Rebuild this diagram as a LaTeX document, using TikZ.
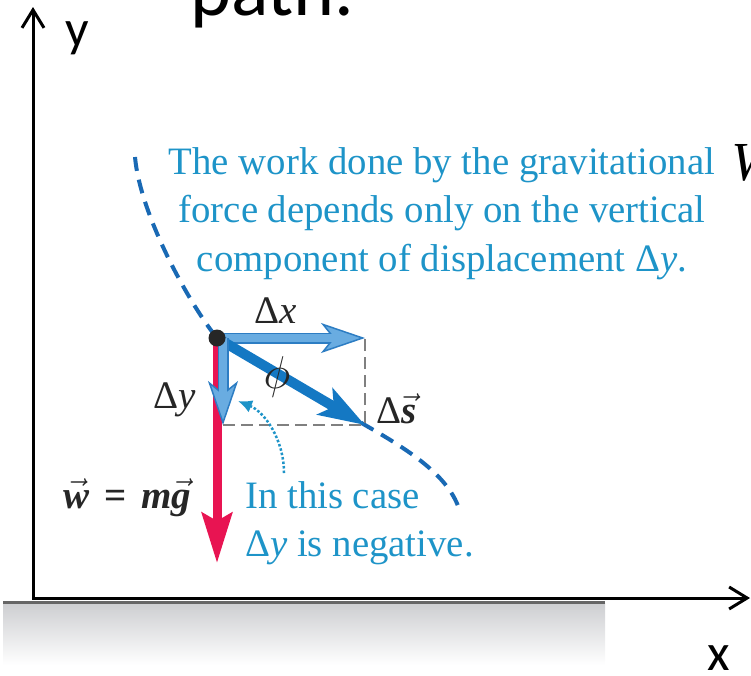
\documentclass[tikz,border=0pt]{standalone}
\usepackage{fix-cm}
\usepackage{fontspec}
\setmainfont{Liberation Serif}
\newfontfamily\slidefont{Carlito}
\usetikzlibrary{arrows.meta}
\definecolor{noteBlue}{RGB}{30,148,200}
\definecolor{pathBlue}{RGB}{25,105,180}
\definecolor{dispBlue}{RGB}{20,120,195}
\definecolor{compBlue}{RGB}{105,172,225}
\definecolor{compEdge}{RGB}{45,125,195}
\definecolor{weightRed}{RGB}{232,20,82}
\definecolor{groundGray}{RGB}{205,206,209}

\begin{document}
\begin{tikzpicture}[
  x=1pt, y=-1pt,
  axis/.style={
    line width=3pt,
    line join=miter,
    {Straight Barb[length=18pt,width=22pt]}-{Straight Barb[length=18pt,width=22pt]}
  },
  slidetext/.style={inner sep=0pt, font=\slidefont\fontsize{52}{52}\selectfont},
  note/.style={inner sep=0pt, text=noteBlue, font=\fontsize{38.8}{48.5}\selectfont},
  lbl/.style={inner sep=0pt, text=black!85, font=\fontsize{39}{44}\selectfont},
  curve/.style={pathBlue, line width=4pt, dash pattern=on 14pt off 9pt},
  guide/.style={gray, line width=1.3pt, dash pattern=on 12pt off 6pt},
  hint/.style={noteBlue, line width=2.5pt, dash pattern=on 2.5pt off 2pt,
    -{Latex[length=14pt,width=13pt]}},
  weight/.style={weightRed, line width=9pt,
    -{Stealth[length=50pt,width=30pt,inset=8pt]}},
  disp/.style={dispBlue, line width=10pt,
    -{Stealth[length=46pt,width=30pt,inset=10pt]}},
  comp/.style={compEdge, line width=11pt,
    -{Stealth[length=44pt,width=30pt,inset=12pt,fill=compBlue,line width=1.5pt]}},
  compfill/.style={compBlue, line width=8pt, shorten >=30pt},
  dotnode/.style={circle, fill=black!85, minimum size=17pt, inner sep=0pt}
]
  \useasboundingbox (0,0) rectangle (751,675);
  \clip (0,0) rectangle (751,675);

  % ground and axes
  \shade[top color=groundGray, bottom color=white] (3,603) rectangle (605,665);
  \draw[line width=3pt, black!60] (3,602) -- (605,602);
  \coordinate (O) at (33,598);
  \coordinate (ytip) at (33,7);
  \coordinate (xtip) at (750,598);
  \draw[axis] (ytip) -- (O) -- (xtip);
  \node[slidetext, anchor=base west] (ylbl) at (65,46) {y};
  \node[slidetext, anchor=base west] (xlbl) at (707,670) {x};

  % slide text cut by the frame
  \node[anchor=base west, inner sep=0pt, font=\slidefont\fontsize{78}{78}\selectfont] (title) at (190,15) {path.};
  \node[anchor=base west, inner sep=0pt, font=\fontsize{55}{55}\selectfont\itshape] (wcut) at (731,180) {W};

  % key points
  \coordinate (p) at (217,338);
  \coordinate (dxend) at (365,338);
  \coordinate (dsend) at (365,425);
  \coordinate (dyend) at (223,425);
  \coordinate (wend) at (217,563);
  \coordinate (ctop) at (135,157);
  \coordinate (cend) at (460,512);
  \coordinate (hintstart) at (284,473);
  \coordinate (hintend) at (238,401);

  % path of the particle
  \draw[curve] (ctop) .. controls (140,215) and (190,305) .. (p) -- (dsend)
    .. controls (405,448) and (450,475) .. (cend);
  \draw[guide] (dyend) -| (dxend);
  \draw[hint] (hintstart) .. controls (284,440) and (265,412) .. (hintend);

  % vectors
  \draw[weight] (p) -- (wend);
  \draw[comp] (p) -- (dxend);
  \draw[compfill] (p) -- (dxend);
  \draw[disp] (p) -- (dsend);
  \draw[comp] ([xshift=6pt]p) -- (dyend);
  \draw[compfill] ([xshift=6pt]p) -- (dyend);
  \node[dotnode] (pdot) at (p) {};

  % labels
  \node[lbl, anchor=base west] (dxlbl) at (254,323) {Δ\textit{x}};
  \node[lbl, anchor=base west] (dylbl) at (153,408) {Δ\textit{y}};
  \node[lbl, anchor=base west] (dslbl) at (376,423) {Δ$\vec{\textbf{\textit{s}}}$};
  \node[lbl, anchor=base west] (wlbl) at (63,508)
    {$\vec{\textbf{\textit{w}}}$\hspace{15pt}\textbf{=}\hspace{15pt}\textbf{\textit{m}}$\vec{\textbf{\textit{g}}}$};
  \node[inner sep=0pt, text=black!85, font=\fontsize{46}{46}\selectfont] (philbl) at (277,377) {$\phi$};

  \node[note, align=center, anchor=north] (topnote) at (442,147)
    {The work done by the gravitational\\force depends only on the vertical\\component of displacement Δ\textit{y}.};
  \node[note, align=left, anchor=north west] (casenote) at (245,481)
    {In this case\\Δ\textit{y} is negative.};
\end{tikzpicture}
\end{document}
